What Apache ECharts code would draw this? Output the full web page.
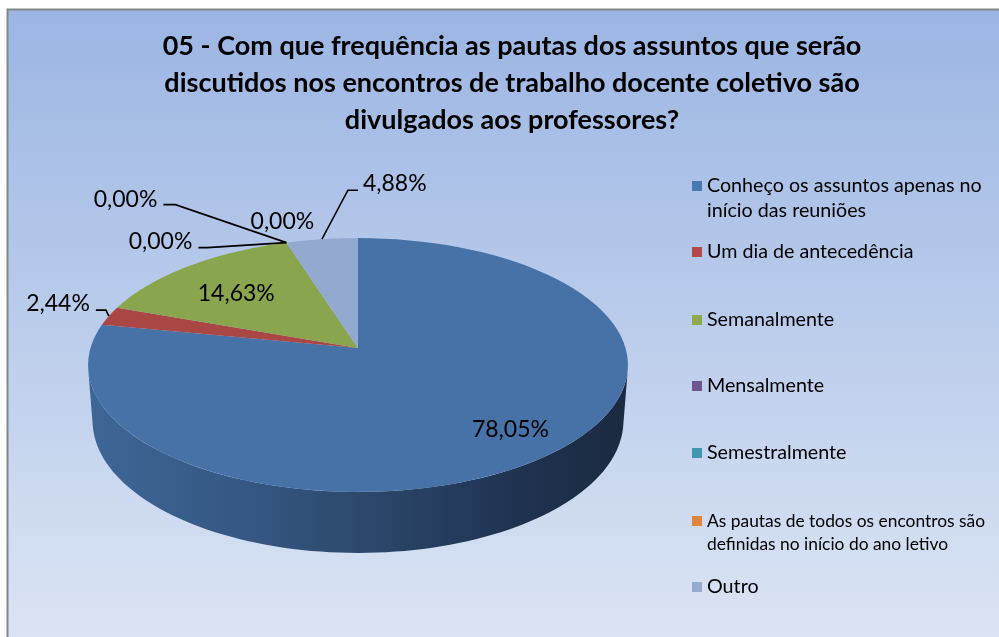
<!DOCTYPE html>
<html>
<head>
<meta charset="utf-8">
<script src="https://cdn.jsdelivr.net/npm/echarts@6/dist/echarts.min.js"></script>
<style>
  html, body { margin: 0; padding: 0; background: #ffffff; }
  #chart { width: 999px; height: 637px; }
</style>
</head>
<body>
<div id="chart"></div>
<script>
// ---------------- DATA ----------------
const titleText = '05 - Com que frequência as pautas dos assuntos que serão\ndiscutidos nos encontros de trabalho docente coletivo são\ndivulgados aos professores?';
const categories = [
  'Conheço os assuntos apenas no início das reuniões',
  'Um dia de antecedência',
  'Semanalmente',
  'Mensalmente',
  'Semestralmente',
  'As pautas de todos os encontros são definidas no início do ano letivo',
  'Outro'
];
const legendLines = [
  ['Conheço os assuntos apenas no', 'início das reuniões'],
  ['Um dia de antecedência'],
  ['Semanalmente'],
  ['Mensalmente'],
  ['Semestralmente'],
  ['As pautas de todos os encontros são', 'definidas no início do ano letivo'],
  ['Outro']
];
const percentages = [78.05, 2.44, 14.63, 0.00, 0.00, 0.00, 4.88];

// ---------------- STYLE / LAYOUT ----------------
const FONT = 'Lato';
const legendColors = ['#4A78B0', '#B3494A', '#8DAA4F', '#705590', '#4098AE', '#DF853E', '#95AACF'];
const topColors    = ['#4672A8', '#AA4643', '#89A54E', '#71588F', '#4198AF', '#DB843D', '#93A9CF'];
const sideColors   = [
  [[0, '#3E6696'], [0.3, '#355782'], [0.55, '#2A4568'], [0.8, '#1F3250'], [1, '#1B2A40']],
  [[0, '#8A3836'], [1, '#5A2423']],
  [[0, '#6F863F'], [1, '#48572A']],
  [[0, '#5C4774'], [1, '#3C2E4C']],
  [[0, '#357C8E'], [1, '#22505C']],
  [[0, '#B26B31'], [1, '#744620']],
  [[0, '#7789A8'], [1, '#4E5A6E']]
];
// legend entry: top, font size, line height
const legendLayout = [
  { top: 148.5, size: 19.7, lh: 25 },
  { top: 239.5, size: 19.7, lh: 25 },
  { top: 307.5, size: 19.7, lh: 25 },
  { top: 373.5, size: 19.7, lh: 25 },
  { top: 440.5, size: 19.7, lh: 25 },
  { top: 486.5, size: 17.4, lh: 23 },
  { top: 574.5, size: 19.7, lh: 25 }
];

// 3D pie projection parameters
const PIE = { cx: 358, cy: 348, focal: 1767, r: 0.1514, tilt: 27.77, depth: 0.036 };
const sinA = Math.sin(PIE.tilt * Math.PI / 180);
const cosA = Math.cos(PIE.tilt * Math.PI / 180);

function project(thetaDeg, frac, level) {
  const t = thetaDeg * Math.PI / 180;
  const X = frac * PIE.r * Math.sin(t);
  const Z = frac * PIE.r * Math.cos(t);
  const Y = -level * PIE.depth;
  const d = 1 - Y * sinA + Z * cosA;
  const up = Y * cosA + Z * sinA;
  return [PIE.cx + PIE.focal * X / d, PIE.cy - PIE.focal * up / d];
}
const silhouette = Math.acos(-PIE.r / cosA) * 180 / Math.PI;

// label placement (offsets relative to anchor on the slice)
const labelLayout = [
  { inside: true, frac: 0.8, dx: 4, dy: -2, align: 'center' },
  { inside: false, leader: [[0, 0], [-3, -6], [-13, -6]], dx: -19, dy: -13, align: 'right' },
  { inside: true, frac: 0.8, dx: 16, dy: 12, align: 'center' },
  { inside: false, leader: [[0, 0], [-111, -38], [-123, -38]], dx: -129, dy: -43, align: 'right' },
  { inside: false, leader: [[0, 0], [-79, 5], [-88, 5]], dx: -94, dy: -1, align: 'right' },
  { inside: false, leader: null, dx: -4, dy: -21, align: 'center' },
  { inside: false, leader: [[0, 0], [26, -49], [36, -49]], dx: 41, dy: -56, align: 'left' }
];

function fmtPct(v) { return v.toFixed(2).replace('.', ',') + '%'; }

const total = percentages.reduce((a, b) => a + b, 0);
function sliceAngles(i) {
  let before = 0;
  for (let k = 0; k < i; k++) before += percentages[k];
  const a = before / total * 360;
  const b = (before + percentages[i]) / total * 360;
  return [a, b];
}

function makeRender(i) {
  return function (params, api) {
    const value = api.value(0);
    const [a, b] = sliceAngles(i);
    const children = [];
    const steps = 90;
    if (value > 0) {
      const s0 = Math.max(a, silhouette), s1 = Math.min(b, 360 - silhouette);
      if (s1 > s0) {
        const pts = [];
        for (let k = 0; k <= steps; k++) pts.push(project(s0 + (s1 - s0) * k / steps, 1, 0));
        for (let k = steps; k >= 0; k--) pts.push(project(s0 + (s1 - s0) * k / steps, 1, 1));
        children.push({
          type: 'polygon', z2: 1, shape: { points: pts },
          style: { fill: { type: 'linear', x: 0, y: 0, x2: 1, y2: 0, colorStops: sideColors[i].map(c => ({ offset: c[0], color: c[1] })) } }
        });
      }
      const top = [project(0, 0, 0)];
      for (let k = 0; k <= steps; k++) top.push(project(a + (b - a) * k / steps, 1, 0));
      children.push({ type: 'polygon', z2: 2, shape: { points: top }, style: { fill: topColors[i] } });
    }
    const L = labelLayout[i];
    const mid = (a + b) / 2;
    const anchor = L.inside ? project(mid, L.frac, 0) : project(mid, 1, 0);
    if (L.leader) {
      children.push({
        type: 'polyline', z2: 3,
        shape: { points: L.leader.map(p => [anchor[0] + p[0], anchor[1] + p[1]]) },
        style: { stroke: '#000000', lineWidth: 1.6, fill: null }
      });
    }
    children.push({
      type: 'text', z2: 4, x: anchor[0] + L.dx, y: anchor[1] + L.dy,
      style: { text: fmtPct(value), fill: '#000000', fontSize: 23, fontFamily: FONT, align: L.align, verticalAlign: 'middle' }
    });
    return { type: 'group', children: children };
  };
}

const chart = echarts.init(document.getElementById('chart'), null, { renderer: 'canvas' });
const option = {
  backgroundColor: '#ffffff',
  animation: false,
  title: {
    text: titleText,
    left: 512, top: 28, padding: 0,
    textAlign: 'center',
    textStyle: { fontFamily: FONT, fontWeight: 'bold', fontSize: 27, lineHeight: 37, color: '#000000' }
  },
  graphic: [{
    type: 'rect', z: -10, silent: true,
    shape: { x: 7.5, y: 9.5, width: 996, height: 640 },
    style: {
      fill: { type: 'linear', x: 0, y: 0, x2: 0, y2: 1, colorStops: [{ offset: 0, color: '#9BB5E3' }, { offset: 1, color: '#DCE5F4' }] },
      stroke: '#858585', lineWidth: 2
    }
  }],
  legend: categories.map((name, i) => ({
    data: [name],
    left: 692, top: legendLayout[i].top, padding: 0,
    orient: 'vertical', icon: 'rect', itemWidth: 10, itemHeight: 10,
    selectedMode: false,
    // a blank leading line keeps the key square level with the first text line
    formatter: () => (legendLines[i].length > 1 ? ' \n' : '') + legendLines[i].join('\n'),
    textStyle: {
      fontFamily: FONT, fontSize: legendLayout[i].size, lineHeight: legendLayout[i].lh, color: '#000000'
    }
  })),
  series: categories.map((name, i) => ({
    type: 'custom',
    name: name,
    coordinateSystem: 'none',
    itemStyle: { color: legendColors[i] },
    data: [[percentages[i]]],
    renderItem: makeRender(i)
  }))
};
chart.setOption(option);
</script>
</body>
</html>
